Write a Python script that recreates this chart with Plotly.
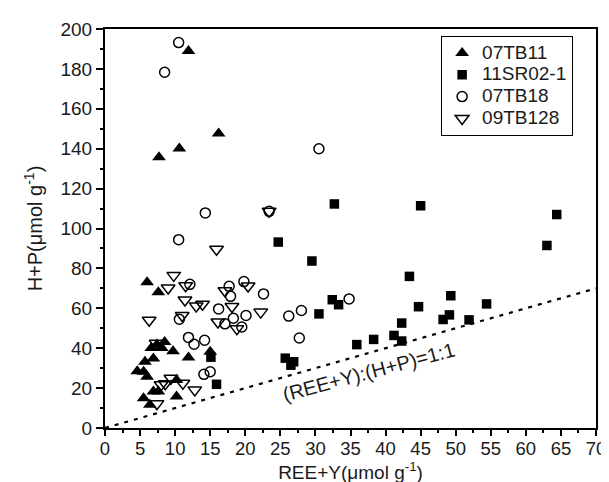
import plotly.graph_objects as go

# ---- data ----
x_07TB11 = [11.9, 7.7, 10.6, 16.2, 6.0, 7.6, 6.6, 7.4, 8.5, 8.1, 9.7, 11.9, 15.0, 5.7, 6.9,
            4.6, 5.5, 6.0, 10.2, 6.9, 7.6, 5.5, 6.4, 10.2]
y_07TB11 = [189, 135.7, 140.1, 147.6, 73, 68, 40.1, 41.8, 43.1, 40.1, 38.5, 35.3, 38.2, 33.2, 34.8,
            28.5, 28.2, 25.7, 24, 18.3, 18.3, 14.9, 11.6, 15.8]

x_11SR02 = [32.7, 45.0, 64.4, 63.0, 24.7, 29.5, 43.4, 49.3, 32.4, 33.3, 44.7, 54.4, 30.5,
            48.2, 49.1, 51.9, 42.3, 35.9, 38.3, 41.2, 42.3, 25.7, 26.9, 26.5, 15.9, 15.1]
y_11SR02 = [112.3, 111.4, 107, 91.5, 93.2, 83.7, 76, 66.3, 64.3, 61.8, 60.8, 62.2, 57.2,
            54.4, 56.7, 54.2, 52.6, 41.8, 44.4, 46.4, 43.6, 35.0, 33.2, 31.5, 21.9, 35.5]

x_07TB18 = [10.5, 8.5, 30.5, 14.3, 23.4, 10.5, 12.1, 17.7, 19.8, 22.6, 17.9, 16.2, 20.1, 18.3,
            17.1, 19.5, 10.6, 26.2, 28.0, 34.8, 27.7, 11.9, 12.7, 14.2, 14.1, 15.0]
y_07TB18 = [193.2, 178.3, 140, 107.8, 108.6, 94.4, 72, 71, 73.4, 67.2, 66, 59.7, 56.4, 55,
            52.2, 50.6, 54.5, 56.1, 58.9, 64.7, 45.1, 45.4, 42, 44, 26.9, 28.2]

x_09TB128 = [23.4, 15.9, 9.8, 9.0, 11.5, 17.1, 20.4, 11.4, 13.0, 13.9, 18.1, 22.2, 6.3,
             11.0, 16.1, 18.8, 7.3, 8.0, 8.6, 9.4, 11.1, 12.8, 7.4]
y_09TB128 = [108.6, 89.6, 76.5, 70.2, 71.3, 68.8, 71.2, 64.2, 61.2, 62, 60.9, 58.1, 54,
             56.4, 53.1, 49.8, 42.5, 21.7, 22.2, 24.9, 22.4, 19.1, 12.2]

series_names = ["07TB11", "11SR02-1", "07TB18", "09TB128"]

ratio_x = [0, 70]
ratio_y = [0, 70]
ratio_label = "(REE+Y):(H+P)=1:1"

x_ticks = list(range(0, 71, 5))
y_ticks = list(range(0, 201, 20))

FONT = "Liberation Sans, Arial, sans-serif"
TXT = "#1a1a1a"


def legend_name(s):
    return '<span style="font-size:19px">' + s + '</span>'


fig = go.Figure()
fig.add_trace(go.Scatter(x=ratio_x, y=ratio_y, mode="lines", showlegend=False,
                         line=dict(color="black", width=2.2, dash="4px,6px"), hoverinfo="skip"))
fig.add_trace(go.Scatter(x=x_07TB11, y=y_07TB11, mode="markers", name=legend_name(series_names[0]),
                         marker=dict(symbol="triangle-up", size=12, color="black")))
fig.add_trace(go.Scatter(x=x_11SR02, y=y_11SR02, mode="markers", name=legend_name(series_names[1]),
                         marker=dict(symbol="square", size=9.5, color="black")))
fig.add_trace(go.Scatter(x=x_07TB18, y=y_07TB18, mode="markers", name=legend_name(series_names[2]),
                         marker=dict(symbol="circle-open", size=10, color="black",
                                     line=dict(width=1.5, color="black"))))
fig.add_trace(go.Scatter(x=x_09TB128, y=y_09TB128, mode="markers", name=legend_name(series_names[3]),
                         marker=dict(symbol="triangle-down-open", size=12, color="black",
                                     line=dict(width=1.5, color="black"))))

axis_common = dict(showgrid=False, zeroline=False, showline=True, linecolor="black",
                   linewidth=2, mirror=True, ticks="outside", tickcolor="black",
                   tickwidth=2)

fig.update_xaxes(range=[0, 70], tickvals=x_ticks, ticklen=6, ticklabelstandoff=-3,
                 tickfont=dict(family=FONT, size=18.5, color=TXT),
                 minor=dict(dtick=2.5, tick0=0, ticks="outside", ticklen=3, tickwidth=1.5,
                            tickcolor="black", showgrid=False),
                 title=dict(text="REE+Y(μmol g<sup>-1</sup>)", standoff=0,
                            font=dict(family=FONT, size=19, color=TXT)),
                 **axis_common)
fig.update_yaxes(range=[0, 200], tickvals=y_ticks, ticklen=7,
                 tickfont=dict(family=FONT, size=19, color=TXT),
                 minor=dict(dtick=10, tick0=0, ticks="outside", ticklen=3.5, tickwidth=1.5,
                            tickcolor="black", showgrid=False),
                 title=dict(text="H+P(μmol g<sup>-1</sup>)", standoff=12,
                            font=dict(family=FONT, size=20, color=TXT)),
                 **axis_common)

fig.add_annotation(x=37.6, y=28.3, text=ratio_label, showarrow=False, textangle=-15,
                   font=dict(family=FONT, size=20, color=TXT))

fig.update_layout(
    width=609, height=482,
    margin=dict(l=97, r=11, t=18, b=62),
    plot_bgcolor="white", paper_bgcolor="white",
    font=dict(family=FONT, color=TXT),
    legend=dict(x=0.953, y=0.983, xanchor="right", yanchor="top",
                bgcolor="white", bordercolor="black", borderwidth=1.2,
                font=dict(family=FONT, size=14.5, color=TXT),
                tracegroupgap=0, itemwidth=30),
)

fig.write_html("out.html")
